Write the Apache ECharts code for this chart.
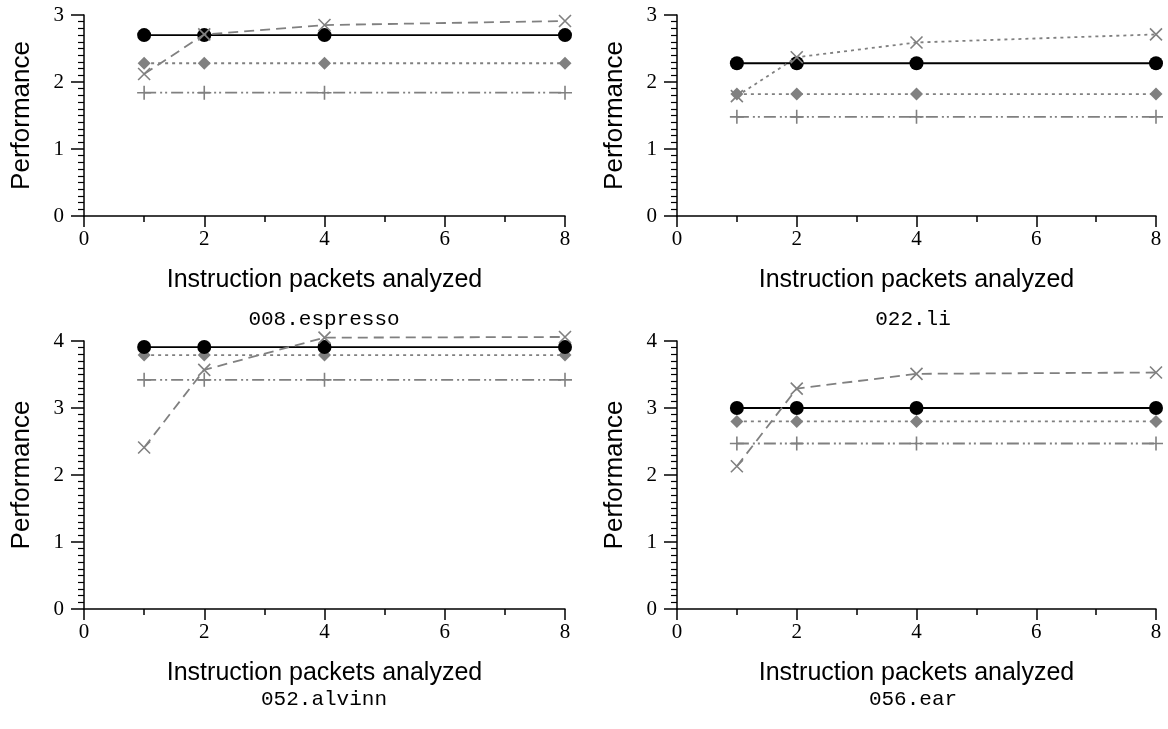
<!DOCTYPE html>
<html>
<head>
<meta charset="utf-8">
<script src="https://cdn.jsdelivr.net/npm/echarts@6/dist/echarts.min.js"></script>
<style>html,body{margin:0;padding:0;background:#fff;}#c{width:1168px;height:729px;}</style>
</head>
<body>
<div id="c"></div>
<script>
// ---- data ----
const xValues = [1, 2, 4, 8];
const panelTitles = ['008.espresso', '022.li', '052.alvinn', '056.ear'];
const xTickLabels = ['0', '2', '4', '6', '8'];
const yMaxes = [3, 3, 4, 4];

const espressoBase    = [2.70, 2.70, 2.70, 2.70];
const espressoCross   = [2.12, 2.71, 2.85, 2.91];
const espressoDiamond = [2.28, 2.28, 2.28, 2.28];
const espressoPlus    = [1.84, 1.84, 1.84, 1.84];

const liBase    = [2.28, 2.28, 2.28, 2.28];
const liCross   = [1.79, 2.37, 2.59, 2.71];
const liDiamond = [1.82, 1.82, 1.82, 1.82];
const liPlus    = [1.48, 1.48, 1.48, 1.48];

const alvinnBase    = [3.91, 3.91, 3.91, 3.91];
const alvinnCross   = [2.41, 3.57, 4.05, 4.06];
const alvinnDiamond = [3.79, 3.79, 3.79, 3.79];
const alvinnPlus    = [3.42, 3.42, 3.42, 3.42];

const earBase    = [3.00, 3.00, 3.00, 3.00];
const earCross   = [2.13, 3.29, 3.51, 3.53];
const earDiamond = [2.80, 2.80, 2.80, 2.80];
const earPlus    = [2.47, 2.47, 2.47, 2.47];

const panels = [
  [espressoBase, espressoCross, espressoDiamond, espressoPlus],
  [liBase, liCross, liDiamond, liPlus],
  [alvinnBase, alvinnCross, alvinnDiamond, alvinnPlus],
  [earBase, earCross, earDiamond, earPlus]
];

// ---- layout / style ----
const grids = [
  {left: 84, top: 15, width: 481, height: 201},
  {left: 677, top: 15, width: 479, height: 201},
  {left: 84, top: 341, width: 481, height: 268},
  {left: 677, top: 341, width: 479, height: 268}
];
const titlePos = [
  {x: 319, y: 304}, {x: 908, y: 304}, {x: 319, y: 684}, {x: 908, y: 684}
];
const GRAY = '#808080';
const crossPath = 'path://M0,0L10,10M10,0L0,10';
const plusPath = 'path://M5,0L5,10M0,5L10,5';
const crossDash = [[10, 6], [3, 4], [10, 6], [10, 6]];

const pts = arr => arr.map((v, i) => [xValues[i], v]);

const xAxes = [], yAxes = [], series = [], titles = [];
grids.forEach((g, i) => {
  xAxes.push({
    type: 'value', gridIndex: i, min: 0, max: 8, interval: 2,
    name: 'Instruction packets analyzed', nameLocation: 'middle', nameGap: 52,
    nameTextStyle: {fontFamily: 'Liberation Sans', fontSize: 25, color: '#000'},
    axisLine: {show: true, onZero: false, lineStyle: {color: '#000', width: 1.5}},
    axisTick: {show: true, length: 11, lineStyle: {color: '#000', width: 1.5}},
    minorTick: {show: true, splitNumber: 2, length: 6, lineStyle: {color: '#000', width: 1.5}},
    splitLine: {show: false},
    axisLabel: {color: '#000', fontFamily: 'Liberation Serif', fontSize: 21, margin: 13,
      formatter: v => xTickLabels[v / 2]}
  });
  yAxes.push({
    type: 'value', gridIndex: i, min: 0, max: yMaxes[i], interval: 1,
    name: 'Performance', nameLocation: 'middle', nameGap: 49, nameRotate: 90,
    nameTextStyle: {fontFamily: 'Liberation Sans', fontSize: 26, color: '#000'},
    axisLine: {show: true, onZero: false, lineStyle: {color: '#000', width: 1.5}},
    axisTick: {show: true, length: 13, lineStyle: {color: '#000', width: 1.5}},
    minorTick: {show: true, splitNumber: 10, length: 6, lineStyle: {color: '#000', width: 1.2}},
    splitLine: {show: false},
    axisLabel: {color: '#000', fontFamily: 'Liberation Serif', fontSize: 21, margin: 20}
  });
  titles.push({
    text: panelTitles[i], left: titlePos[i].x, top: titlePos[i].y, textAlign: 'center',
    textStyle: {fontFamily: 'Liberation Mono', fontSize: 21, fontWeight: 'normal', color: '#000'}
  });
  const [base, cross, diamond, plus] = panels[i];
  series.push({
    type: 'line', xAxisIndex: i, yAxisIndex: i, data: pts(plus), z: 2, clip: false,
    symbol: plusPath, symbolSize: 14, showAllSymbol: true,
    lineStyle: {color: GRAY, width: 1.8, type: [12, 4, 2, 3, 2, 4]},
    itemStyle: {color: 'none', borderColor: GRAY, borderWidth: 1.6}
  });
  series.push({
    type: 'line', xAxisIndex: i, yAxisIndex: i, data: pts(diamond), z: 3, clip: false,
    symbol: 'diamond', symbolSize: 13, showAllSymbol: true,
    lineStyle: {color: GRAY, width: 1.8, type: [3, 4]},
    itemStyle: {color: GRAY, borderWidth: 0}
  });
  series.push({
    type: 'line', xAxisIndex: i, yAxisIndex: i, data: pts(base), z: 4, clip: false,
    symbol: 'circle', symbolSize: 14, showAllSymbol: true,
    lineStyle: {color: '#000', width: 1.8, type: 'solid'},
    itemStyle: {color: '#000', borderWidth: 0}
  });
  series.push({
    type: 'line', xAxisIndex: i, yAxisIndex: i, data: pts(cross), z: 5, clip: false,
    symbol: crossPath, symbolSize: 12, showAllSymbol: true,
    lineStyle: {color: GRAY, width: 1.8, type: crossDash[i]},
    itemStyle: {color: 'none', borderColor: GRAY, borderWidth: 1.6}
  });
});

const chart = echarts.init(document.getElementById('c'), null, {renderer: 'canvas'});
chart.setOption({
  animation: false,
  backgroundColor: '#fff',
  title: titles,
  grid: grids,
  xAxis: xAxes,
  yAxis: yAxes,
  series: series
});
</script>
</body>
</html>
